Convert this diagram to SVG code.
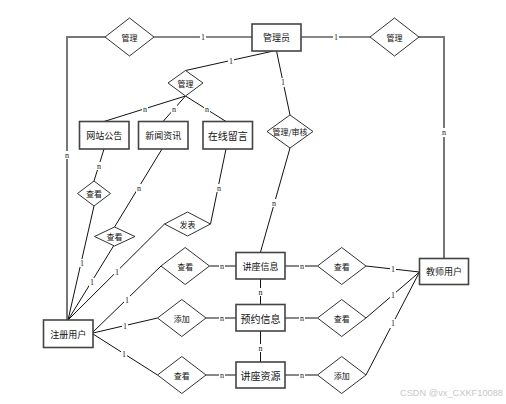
<svg xmlns="http://www.w3.org/2000/svg" width="506" height="404" viewBox="0 0 506 404">
<style>
.bg{fill:#fff}
.box{fill:#fff;stroke:#444;stroke-width:1.6}
.dia{fill:#fff;stroke:#333;stroke-width:1}
.ln{fill:none;stroke:#111;stroke-width:1}
.gl{fill:none;stroke:#777;stroke-width:2}
.t{font-family:"Noto Sans CJK SC","Noto Sans",sans-serif;font-size:9px;fill:#111;text-anchor:middle;dominant-baseline:central}
.td{font-family:"Noto Sans CJK SC","Noto Sans",sans-serif;font-size:8px;fill:#111;text-anchor:middle;dominant-baseline:central}
.lb{font-family:"Liberation Serif",serif;font-size:8px;fill:#222;text-anchor:middle;dominant-baseline:central}
.lr{fill:#fff}
.wm{font-family:"Liberation Sans","DejaVu Sans",sans-serif;font-size:9.5px;fill:#c8c8c8}
</style>
<rect class="bg" x="0" y="0" width="506" height="404"/>
<g id="connectors">
<polyline class="gl" points="105,37 67,37 67,320"/>
<line class="ln" x1="154" y1="37" x2="252" y2="37"/>
<line class="ln" x1="301" y1="37" x2="370" y2="37"/>
<polyline class="gl" points="419,37 444,37 444,258"/>
<line class="ln" x1="273.5" y1="51" x2="185.5" y2="70.5"/>
<line class="ln" x1="276.5" y1="51" x2="290" y2="115"/>
<line class="ln" x1="290" y1="148" x2="260.5" y2="252"/>
<line class="ln" x1="185.5" y1="96" x2="104" y2="121.5"/>
<line class="ln" x1="185.5" y1="96" x2="163" y2="121.5"/>
<line class="ln" x1="185.5" y1="96" x2="226" y2="121.5"/>
<line class="ln" x1="104" y1="149" x2="94" y2="181"/>
<line class="ln" x1="94" y1="206" x2="68" y2="320"/>
<line class="ln" x1="162" y1="149" x2="114.5" y2="227"/>
<line class="ln" x1="113.5" y1="246" x2="68" y2="320"/>
<line class="ln" x1="226" y1="149" x2="210.5" y2="224"/>
<line class="ln" x1="164.5" y1="224" x2="68" y2="320"/>
<line class="ln" x1="93" y1="332" x2="161" y2="266"/>
<line class="ln" x1="93" y1="333" x2="157.5" y2="318"/>
<line class="ln" x1="93" y1="334" x2="157.5" y2="375"/>
<line class="ln" x1="209.5" y1="266" x2="236" y2="266"/>
<line class="ln" x1="206" y1="318" x2="236" y2="318"/>
<line class="ln" x1="206" y1="375" x2="236" y2="375"/>
<line class="ln" x1="260.5" y1="279" x2="260.5" y2="304.5"/>
<line class="ln" x1="260.5" y1="331" x2="260.5" y2="362"/>
<line class="ln" x1="285" y1="266" x2="317.5" y2="266"/>
<line class="ln" x1="285" y1="318" x2="317.5" y2="318"/>
<line class="ln" x1="285" y1="375" x2="317.5" y2="375"/>
<line class="ln" x1="366" y1="266" x2="419.5" y2="272"/>
<line class="ln" x1="366" y1="318" x2="419.5" y2="272"/>
<line class="ln" x1="366" y1="375" x2="419.5" y2="272"/>
<g id="labels">
<rect class="lr" x="200" y="33" width="6" height="8"/><text class="lb" x="203" y="37">1</text>
<rect class="lr" x="333" y="33" width="6" height="8"/><text class="lb" x="336" y="37">1</text>
<rect class="lr" x="441" y="128" width="6" height="9"/><text class="lb" x="444" y="132.5">n</text>
<rect class="lr" x="64" y="151" width="6" height="8"/><text class="lb" x="67" y="155">n</text>
<rect class="lr" x="228" y="57" width="6" height="8"/><text class="lb" x="231" y="61">1</text>
<rect class="lr" x="280" y="78" width="6" height="9"/><text class="lb" x="283" y="82.5">1</text>
<rect class="lr" x="271" y="199" width="6" height="8"/><text class="lb" x="274" y="203">n</text>
<rect class="lr" x="142" y="105" width="6" height="8"/><text class="lb" x="145" y="109">n</text>
<rect class="lr" x="171" y="105" width="6" height="8"/><text class="lb" x="174" y="109">n</text>
<rect class="lr" x="204" y="105" width="6" height="8"/><text class="lb" x="207" y="109">n</text>
<rect class="lr" x="96" y="162" width="6" height="8"/><text class="lb" x="99" y="166">n</text>
<rect class="lr" x="136" y="184" width="6" height="8"/><text class="lb" x="139" y="188">n</text>
<rect class="lr" x="216" y="184" width="6" height="8"/><text class="lb" x="219" y="188">n</text>
<rect class="lr" x="79" y="259" width="6" height="8"/><text class="lb" x="82" y="263">1</text>
<rect class="lr" x="89" y="278" width="6" height="9"/><text class="lb" x="92" y="282.5">1</text>
<rect class="lr" x="114" y="268" width="6" height="8"/><text class="lb" x="117" y="272">1</text>
<rect class="lr" x="124" y="296" width="6" height="8"/><text class="lb" x="127" y="300">1</text>
<rect class="lr" x="122" y="322" width="6" height="9"/><text class="lb" x="125" y="326.5">1</text>
<rect class="lr" x="121" y="350" width="6" height="9"/><text class="lb" x="124" y="354.5">1</text>
<rect class="lr" x="219" y="262" width="6" height="8"/><text class="lb" x="222" y="266">n</text>
<rect class="lr" x="219" y="314" width="6" height="8"/><text class="lb" x="222" y="318">n</text>
<rect class="lr" x="219" y="371" width="6" height="8"/><text class="lb" x="222" y="375">n</text>
<rect class="lr" x="257.5" y="288" width="6" height="8"/><text class="lb" x="260.5" y="292">n</text>
<rect class="lr" x="257.5" y="344" width="6" height="8"/><text class="lb" x="260.5" y="348">n</text>
<rect class="lr" x="299" y="262" width="6" height="8"/><text class="lb" x="302" y="266">n</text>
<rect class="lr" x="299" y="314" width="6" height="8"/><text class="lb" x="302" y="318">n</text>
<rect class="lr" x="299" y="371" width="6" height="8"/><text class="lb" x="302" y="375">n</text>
<rect class="lr" x="390" y="265" width="6" height="8"/><text class="lb" x="393" y="269">1</text>
<rect class="lr" x="390" y="291" width="6" height="8"/><text class="lb" x="393" y="295">1</text>
<rect class="lr" x="390" y="319" width="6" height="9"/><text class="lb" x="393" y="323.5">1</text>
</g>
</g>
<g id="admin"><rect class="box" x="252" y="24" width="49" height="27"/><text class="t" x="276.5" y="37.5">管理员</text></g>
<g id="rel-manage-left"><polygon class="dia" points="105,37 129.5,18 154,37 129.5,56"/><text class="td" x="129.5" y="37">管理</text></g>
<g id="rel-manage-right"><polygon class="dia" points="370,37 394.5,18 419,37 394.5,56"/><text class="td" x="394.5" y="37">管理</text></g>
<g id="rel-manage-mid"><polygon class="dia" points="168,83 185.5,70.5 203,83 185.5,96"/><text class="td" x="185.5" y="83">管理</text></g>
<g id="rel-audit"><polygon class="dia" points="267,131.5 290,115 313,131.5 290,148"/><text class="td" x="290" y="131.5">管理/审核</text></g>
<g id="notice"><rect class="box" x="79.5" y="121.5" width="49.5" height="27.5"/><text class="t" x="104.2" y="135.3">网站公告</text></g>
<g id="news"><rect class="box" x="138.5" y="121.5" width="49.5" height="27.5"/><text class="t" x="163.2" y="135.3">新闻资讯</text></g>
<g id="message"><rect class="box" x="203" y="121.5" width="49.5" height="27.5"/><text class="t" x="227.7" y="135.3" style="font-size:10px">在线留言</text></g>
<g id="rel-view1"><polygon class="dia" points="77.5,193.5 94,181 110.5,193.5 94,206"/><text class="td" x="94" y="193.5">查看</text></g>
<g id="rel-view2"><polygon class="dia" points="94.5,236.5 114.5,227 135,236.5 114.5,246"/><text class="td" x="114.5" y="236.5">查看</text></g>
<g id="rel-post"><polygon class="dia" points="164.5,224 187.5,212 210.5,224 187.5,236"/><text class="td" x="187.5" y="224">发表</text></g>
<g id="user"><rect class="box" x="43.5" y="320" width="49.5" height="27.5"/><text class="t" x="68.2" y="334">注册用户</text></g>
<g id="rel-view3"><polygon class="dia" points="161,266 185.2,247.5 209.5,266 185.2,284.5"/><text class="td" x="185.2" y="266">查看</text></g>
<g id="rel-add1"><polygon class="dia" points="157.5,318 181.8,299.5 206,318 181.8,336.5"/><text class="td" x="181.8" y="318">添加</text></g>
<g id="rel-view4"><polygon class="dia" points="157.5,375 181.8,356.5 206,375 181.8,393.5"/><text class="td" x="181.8" y="375">查看</text></g>
<g id="lecture"><rect class="box" x="236" y="252.5" width="49" height="26.5"/><text class="t" x="260.5" y="266">讲座信息</text></g>
<g id="booking"><rect class="box" x="236" y="304.5" width="49" height="26.5"/><text class="t" x="260.5" y="318" style="font-size:10px">预约信息</text></g>
<g id="resource"><rect class="box" x="236" y="362" width="49" height="26"/><text class="t" x="260.5" y="375" style="font-size:10px">讲座资源</text></g>
<g id="rel-view5"><polygon class="dia" points="317.5,266 341.7,247.5 366,266 341.7,284.5"/><text class="td" x="341.7" y="266">查看</text></g>
<g id="rel-view6"><polygon class="dia" points="317.5,318 341.7,299.5 366,318 341.7,336.5"/><text class="td" x="341.7" y="318">查看</text></g>
<g id="rel-add2"><polygon class="dia" points="317.5,375 341.7,356.5 366,375 341.7,393.5"/><text class="td" x="341.7" y="375">添加</text></g>
<g id="teacher"><rect class="box" x="419.5" y="258.5" width="49" height="26"/><text class="t" x="444" y="271.5">教师用户</text></g>
<text class="wm" x="400" y="396" textLength="103" lengthAdjust="spacingAndGlyphs">CSDN @vx_CXKF10088</text>
</svg>
